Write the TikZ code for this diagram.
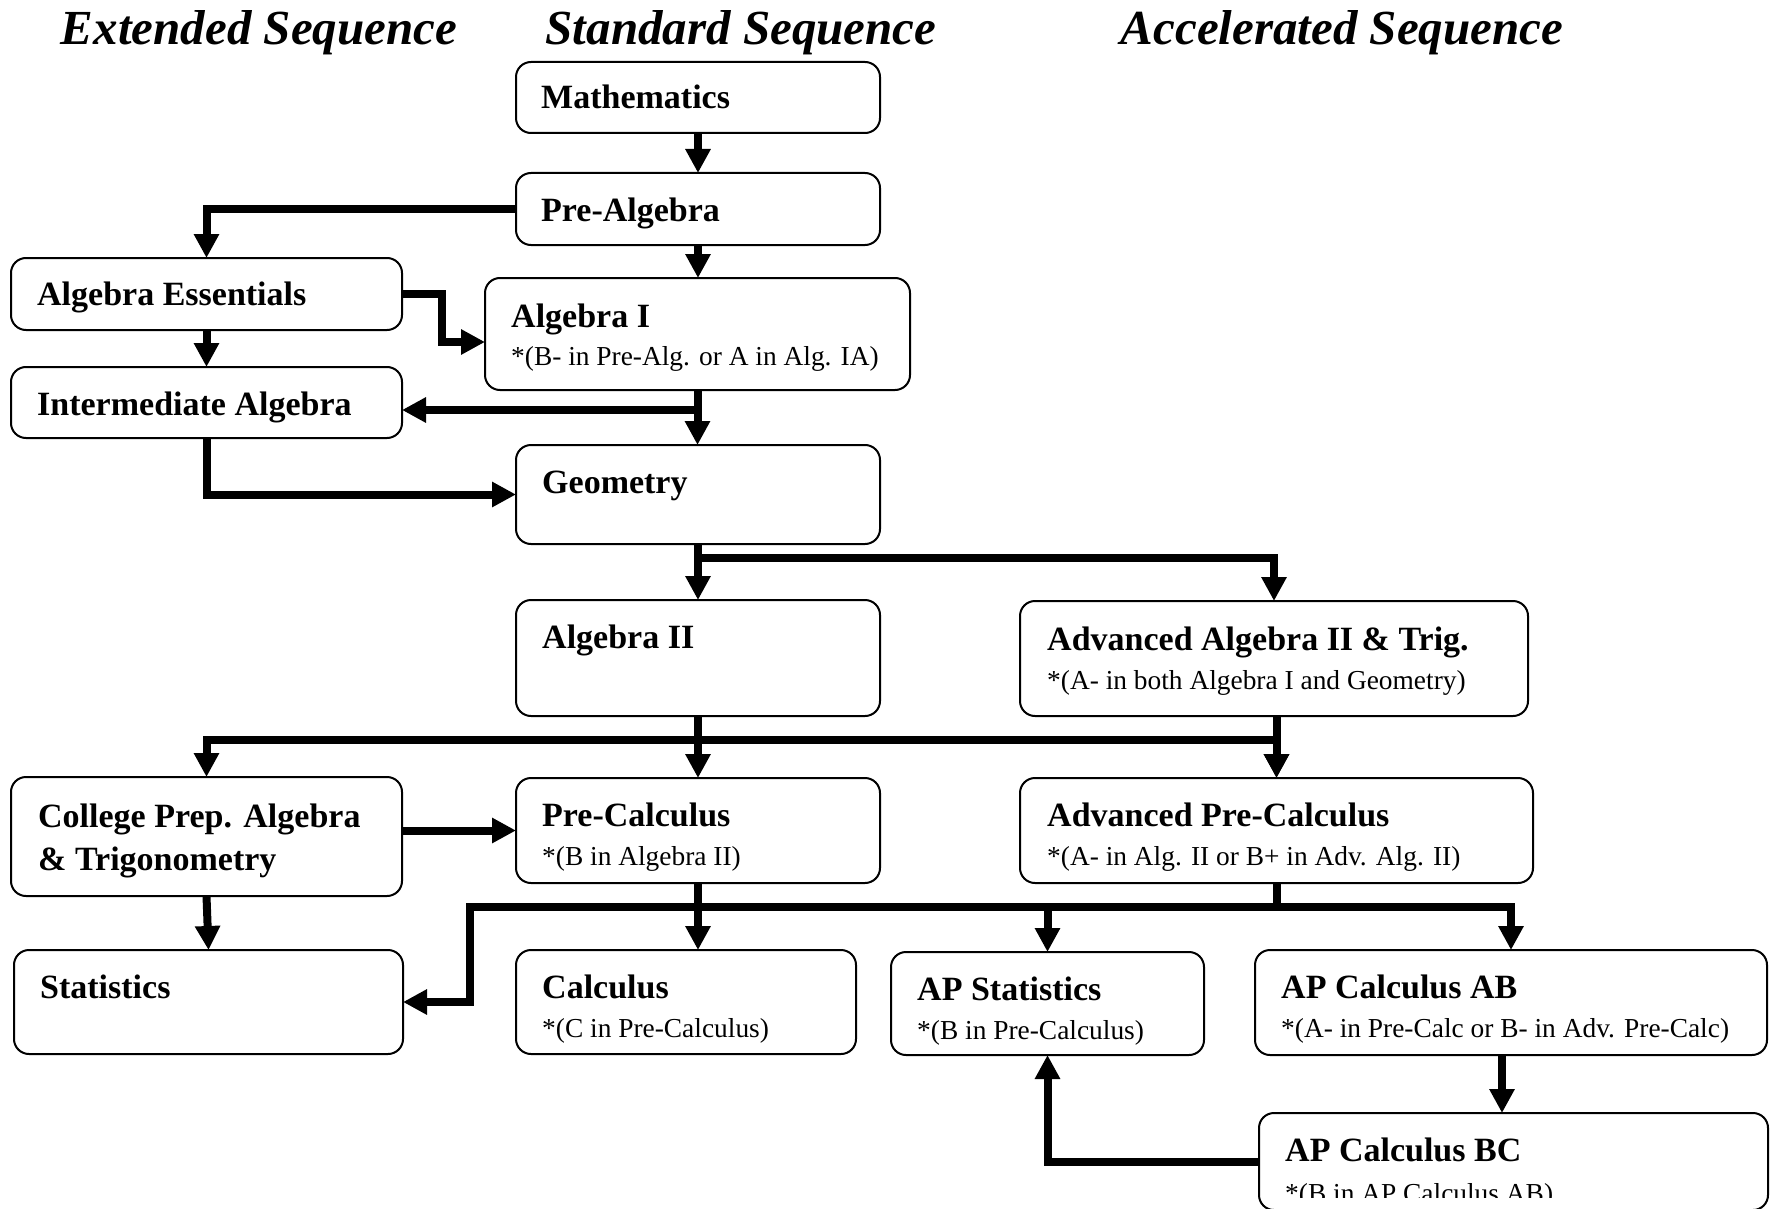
\documentclass[tikz,border=0pt]{standalone}
\usepackage{fontspec}
\setmainfont{Liberation Serif}
\usetikzlibrary{arrows.meta,calc}
\tikzset{
 cbox/.style={draw=black, line width=2pt, rounded corners=15pt, inner sep=0pt, outer sep=0pt, anchor=north west},
 conn/.style={line width=8pt, line join=miter, -{Triangle[width=24pt,length=24pt]}},
 mainlbl/.style={anchor=base west, inner sep=0pt, font=\fontsize{34}{40}\selectfont\bfseries},
 sublbl/.style={anchor=base west, inner sep=0pt, font=\fontsize{27.4}{32}\selectfont},
 ttl/.style={anchor=base, inner sep=0pt, font=\fontsize{49}{56}\selectfont\bfseries\itshape},
}
\begin{document}
\begin{tikzpicture}[x=1pt,y=-1pt]
\useasboundingbox (0,0) rectangle (1771,1209);
\clip (0,0) rectangle (1771,1209);
% titles
\node[ttl] (t1) at (259,45) {Extended Sequence};
\node[ttl] (t2) at (741,45) {Standard Sequence};
\node[ttl] (t3) at (1342,45) {Accelerated Sequence};
% boxes
\node[cbox, minimum width=364pt, minimum height=71pt] (math) at (516,62) {};
\node[cbox, minimum width=364pt, minimum height=72pt] (prealg) at (516,173) {};
\node[cbox, minimum width=391pt, minimum height=72pt] (algess) at (11,258) {};
\node[cbox, minimum width=425pt, minimum height=112pt] (algI) at (485,278) {};
\node[cbox, minimum width=391pt, minimum height=71pt] (intalg) at (11,367) {};
\node[cbox, minimum width=364pt, minimum height=99pt] (geom) at (516,445) {};
\node[cbox, minimum width=364pt, minimum height=116pt] (algII) at (516,600) {};
\node[cbox, minimum width=508pt, minimum height=115pt] (advalg) at (1020,601) {};
\node[cbox, minimum width=391pt, minimum height=119pt] (college) at (11,777) {};
\node[cbox, minimum width=364pt, minimum height=105pt] (precalc) at (516,778) {};
\node[cbox, minimum width=513pt, minimum height=105pt] (advpre) at (1020,778) {};
\node[cbox, minimum width=389pt, minimum height=104pt] (stats) at (14,950) {};
\node[cbox, minimum width=340pt, minimum height=104pt] (calc) at (516,950) {};
\node[cbox, minimum width=313pt, minimum height=103pt] (apstat) at (891,952) {};
\node[cbox, minimum width=512pt, minimum height=105pt] (apab) at (1255,950) {};
\node[cbox, minimum width=509pt, minimum height=97pt] (apbc) at (1259,1113) {};
% labels
\node[mainlbl] (mathT) at ($(math.north west)+(25,47)$) {Mathematics};
\node[mainlbl] (prealgT) at ($(prealg.north west)+(25,48)$) {Pre-Algebra};
\node[mainlbl] (algessT) at ($(algess.north west)+(26,47)$) {Algebra Essentials};
\node[mainlbl] (algIT) at ($(algI.north west)+(26,49)$) {Algebra I};
\node[sublbl] (algIS) at ($(algI.north west)+(26,87)$) {*(B- in Pre-Alg. or A in Alg. IA)};
\node[mainlbl] (intalgT) at ($(intalg.north west)+(26,48)$) {Intermediate Algebra};
\node[mainlbl] (geomT) at ($(geom.north west)+(26,48)$) {Geometry};
\node[mainlbl] (algIIT) at ($(algII.north west)+(26,48)$) {Algebra II};
\node[mainlbl] (advalgT) at ($(advalg.north west)+(27,49)$) {Advanced Algebra II \& Trig.};
\node[sublbl] (advalgS) at ($(advalg.north west)+(27,88)$) {*(A- in both Algebra I and Geometry)};
\node[mainlbl] (collegeT1) at ($(college.north west)+(27,50)$) {College Prep. Algebra};
\node[mainlbl] (collegeT2) at ($(college.north west)+(27,93)$) {\&~Trigonometry};
\node[mainlbl] (precalcT) at ($(precalc.north west)+(26,48)$) {Pre-Calculus};
\node[sublbl] (precalcS) at ($(precalc.north west)+(26,87)$) {*(B in Algebra II)};
\node[mainlbl] (advpreT) at ($(advpre.north west)+(27,48)$) {Advanced Pre-Calculus};
\node[sublbl] (advpreS) at ($(advpre.north west)+(27,87)$) {*(A- in Alg. II or B+ in Adv. Alg. II)};
\node[mainlbl] (statsT) at ($(stats.north west)+(26,48)$) {Statistics};
\node[mainlbl] (calcT) at ($(calc.north west)+(26,48)$) {Calculus};
\node[sublbl] (calcS) at ($(calc.north west)+(26,87)$) {*(C in Pre-Calculus)};
\node[mainlbl] (apstatT) at ($(apstat.north west)+(26,48)$) {AP Statistics};
\node[sublbl] (apstatS) at ($(apstat.north west)+(26,87)$) {*(B in Pre-Calculus)};
\node[mainlbl] (apabT) at ($(apab.north west)+(26,48)$) {AP Calculus AB};
\node[sublbl] (apabS) at ($(apab.north west)+(26,87)$) {*(A- in Pre-Calc or B- in Adv. Pre-Calc)};
\node[mainlbl] (apbcT) at ($(apbc.north west)+(26,48)$) {AP Calculus BC};
\begin{scope}
\clip (1259,1113) rectangle (1768,1197);
\node[sublbl] (apbcS) at ($(apbc.north west)+(26,89)$) {*(B in AP Calculus AB)};
\end{scope}
% junction coordinates
\coordinate (jAE) at (442,342);
\coordinate (jAI) at (698,410);
\coordinate (jG) at (0,558);
\coordinate (jB) at (0,740);
\coordinate (jP) at (0,907);
\coordinate (jS) at (470,0);
% connectors
\draw[conn] (math.south) -- (prealg.north);
\draw[conn] (prealg.west) -| (algess.north);
\draw[conn] (prealg.south) -- (prealg.south |- algI.north);
\draw[conn] (algess.east) -| (jAE) -- (jAE -| algI.west);
\draw[conn] (algess.south) -- (intalg.north);
\draw[conn] (algI.south) -- (algI.south |- geom.north);
\draw[conn] (algI.south) |- (jAI -| intalg.east);
\draw[conn] (intalg.south) |- (geom.west);
\draw[conn] (geom.south) -- (algII.north);
\draw[conn] (geom.south) |- (jG -| advalg.north) -- (advalg.north);
\draw[conn] (algII.south) -- (precalc.north);
\draw[conn] (algII.south) |- (jB -| college.north) -- (college.north);
\draw[conn] (algII.south) |- (jB -| advpre.north) -- (advpre.north);
\draw[conn] (advalg.south -| advpre.north) -- (advpre.north);
\draw[conn] (college.east |- precalc.west) -- (precalc.west);
\draw[conn] (college.south) -- (stats.north);
\draw[conn] (precalc.south) -- (precalc.south |- calc.north);
\draw[conn] (advpre.south) |- (jP -| jS) |- (stats.east);
\draw[conn] (advpre.south) |- (jP -| apstat.north) -- (apstat.north);
\draw[conn] (advpre.south) |- (jP -| apab.north) -- (apab.north);
\draw[conn] ([xshift=-9pt]apab.south) -- ([xshift=-9pt]apab.south |- apbc.north);
\draw[conn] (apbc.west) -| (apstat.south);
\end{tikzpicture}
\end{document}
